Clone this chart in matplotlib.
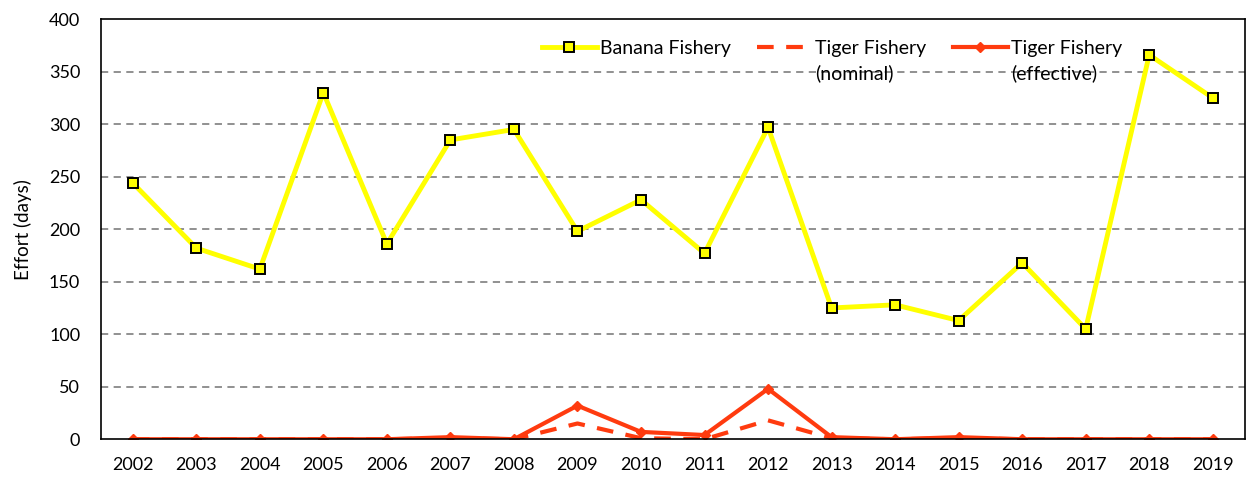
import matplotlib.pyplot as plt
import numpy as np

# data
years = ["2002", "2003", "2004", "2005", "2006", "2007", "2008", "2009", "2010",
         "2011", "2012", "2013", "2014", "2015", "2016", "2017", "2018", "2019"]
banana = [244, 182, 162, 330, 186, 285, 295, 198, 228, 177, 297, 125, 128, 113, 168, 105, 366, 325]
tiger_nominal = [0, 0, 0, 0, 0, 1, 0, 15, 1, 0, 18, 1, 0, 1, 0, 0, 0, 0]
tiger_effective = [0, 0, 0, 0, 0, 2, 0, 32, 7, 4, 48, 2, 0, 2, 0, 0, 0, 0]
sub_labels = ["", "(nominal)", "(effective)"]

plt.rcParams["font.family"] = ["Lato", "DejaVu Sans"]

fig, ax = plt.subplots(figsize=(12.47, 4.79), dpi=100)
fig.subplots_adjust(left=0.081, right=0.998, top=0.96, bottom=0.083)

x = np.arange(len(years))
red = "#FF3B0F"

ax.plot(x, banana, color="#FFFF00", lw=3.5, marker="s", ms=6.5,
        mfc="#FFFF00", mec="black", mew=1.4, label="Banana Fishery", zorder=3)
ax.plot(x, tiger_nominal, color=red, lw=3, ls=(0, (4, 3)),
        label="Tiger Fishery", zorder=2)
ax.plot(x, tiger_effective, color=red, lw=3, marker="D", ms=5,
        label="Tiger Fishery", zorder=2)

ax.set_xlim(-0.5, len(years) - 0.5)
ax.set_ylim(0, 400)
ax.set_yticks(range(0, 401, 50))
ax.set_xticks(x)
ax.set_xticklabels(years)
ax.tick_params(axis="y", length=0, labelsize=13, pad=15)
ax.tick_params(axis="x", length=0, labelsize=13, pad=13)
ax.set_ylabel("Effort (days)", fontsize=13.5, labelpad=12)

for y in range(50, 400, 50):
    ax.axhline(y, color="#888888", lw=1.3, ls=(0, (4, 3)), zorder=1)

for s in ax.spines.values():
    s.set_color("black")
    s.set_linewidth(1.2)

leg = ax.legend(loc="upper right", bbox_to_anchor=(0.893, 0.95), ncol=3,
                frameon=False, fontsize=14, handlelength=2.85, columnspacing=1.35,
                handletextpad=0.15, borderaxespad=0, borderpad=0)

# second line of the tiger labels, placed under the legend text
fig.canvas.draw()
inv = fig.transFigure.inverted()
for t, sub in zip(leg.get_texts(), sub_labels):
    if not sub:
        continue
    bb = t.get_window_extent()
    px, py = inv.transform((bb.x0, bb.y0))
    fig.text(px, py - 0.014, sub, fontsize=14, va="top", ha="left")

plt.savefig("out.png")
